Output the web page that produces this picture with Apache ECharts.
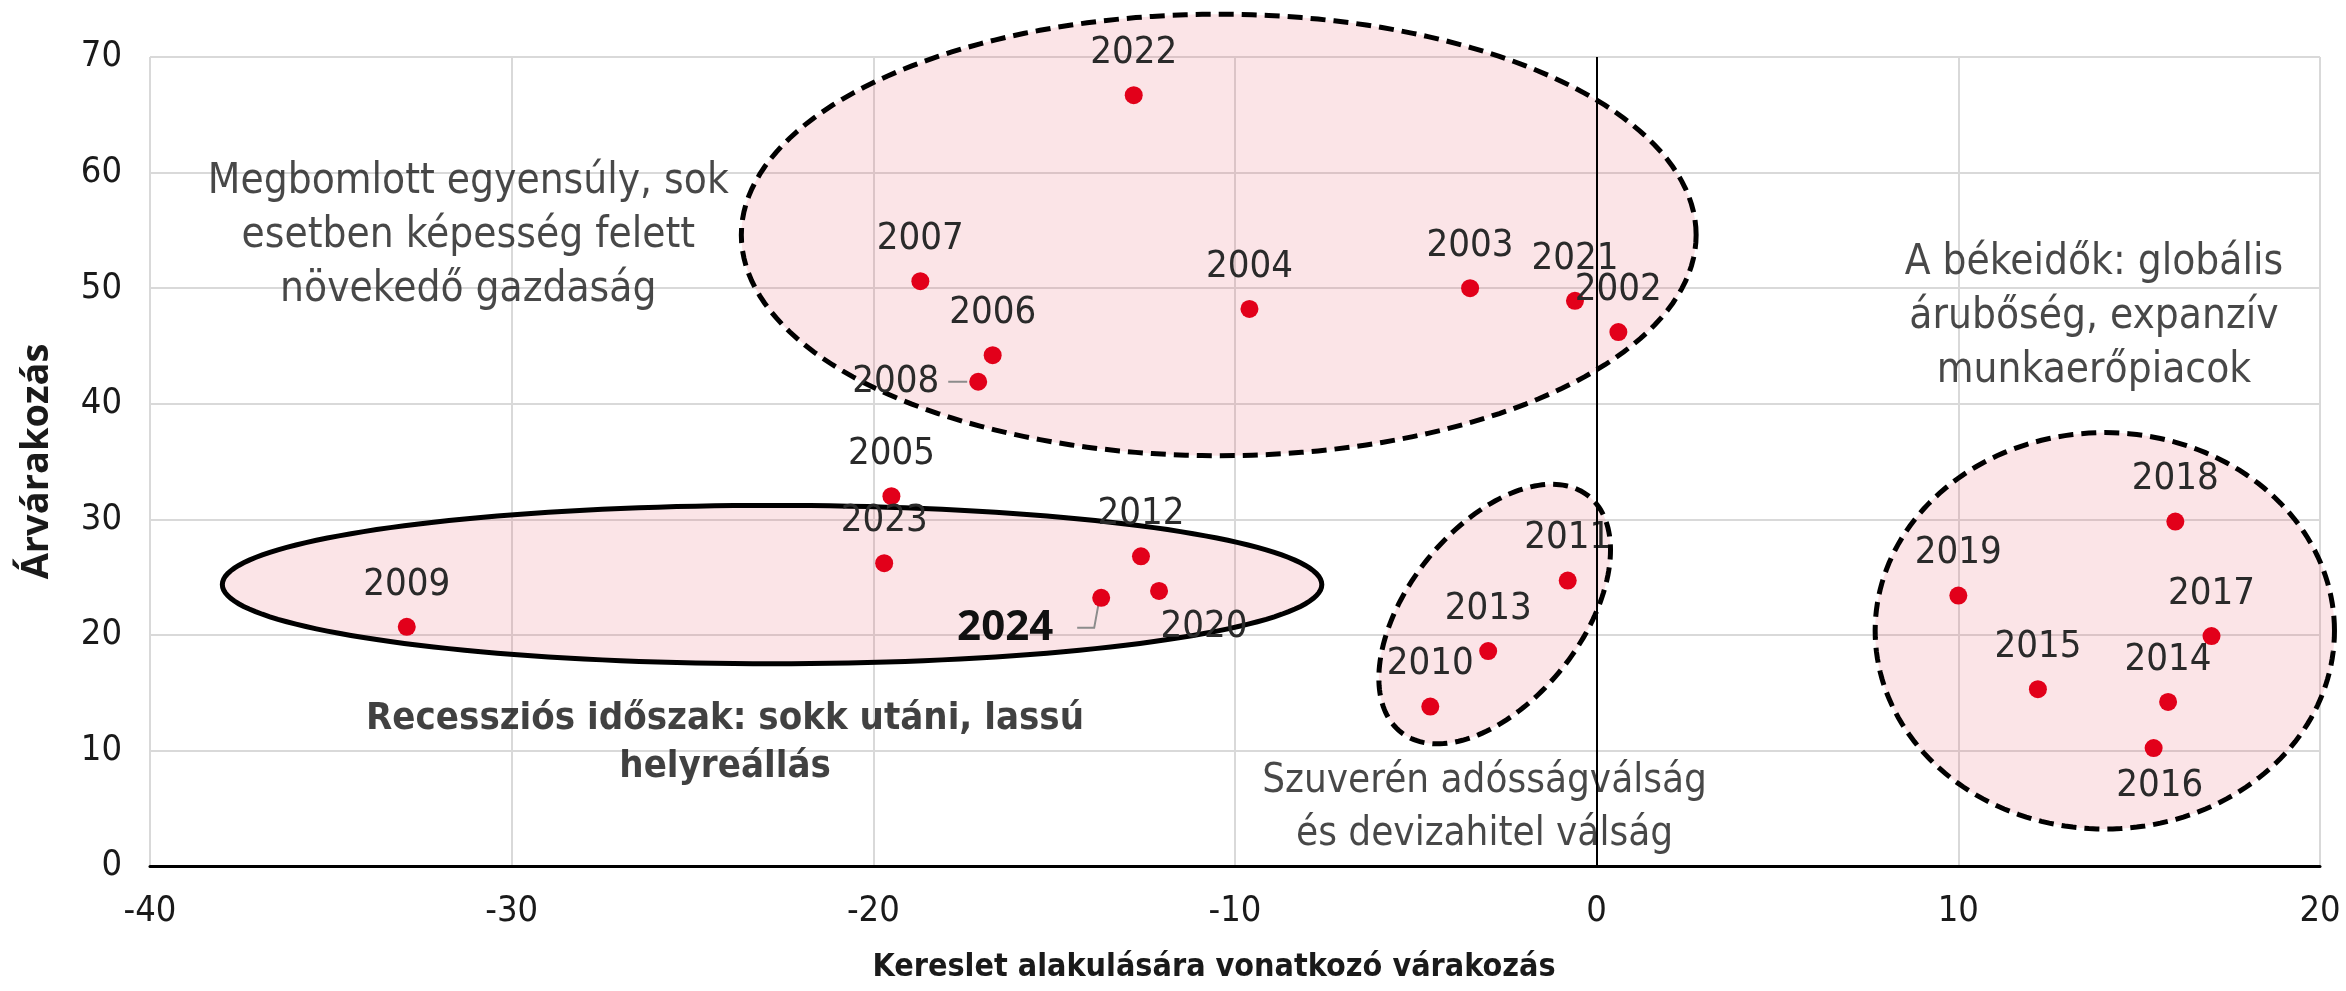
<!DOCTYPE html>
<html>
<head>
<meta charset="utf-8">
<script src="https://cdn.jsdelivr.net/npm/echarts@6/dist/echarts.min.js"></script>
<style>
  html, body { margin: 0; padding: 0; background: #fff; }
  #chart { width: 2346px; height: 991px; }
</style>
</head>
<body>
<div id="chart"></div>
<script>
// évek és a két várakozási index
var years = ['2002','2003','2004','2005','2006','2007','2008','2009','2010','2011','2012','2013',
             '2014','2015','2016','2017','2018','2019','2020','2021','2022','2023','2024'];
var demand = [0.6, -3.5, -9.6, -19.5, -16.7, -18.7, -17.1, -32.9, -4.6, -0.8, -12.6, -3.0,
              15.8, 12.2, 15.4, 17.0, 16.0, 10.0, -12.1, -0.6, -12.8, -19.7, -13.7];
var prices = [46.2, 50.0, 48.2, 32.0, 44.2, 50.6, 41.9, 20.7, 13.8, 24.7, 26.8, 18.6,
              14.2, 15.3, 10.2, 19.9, 29.8, 23.4, 23.8, 48.9, 66.7, 26.2, 23.2];

var xTicks = { min: -40, max: 20, interval: 10 };
var yTicks = { min: 0, max: 70, interval: 10 };

// csoportokat jelölő ellipszisek: középpont, félátmérők (tengelyegységben), forgatás, szaggatott-e
var groups = [
  [-10.45, 54.6, 13.2, 19.1, 0, 1],
  [-22.8, 24.35, 15.2, 6.85, 0, 0],
  [-2.82, 21.8, 4.17, 7.5, 51.5, 1],
  [14.05, 20.35, 6.35, 17.15, 0, 1]
];

var notes = [
  { text: 'Megbomlott egyensúly, sok\nesetben képesség felett\nnövekedő gazdaság', at: [-31.2, 54.5], bold: false },
  { text: 'Recessziós időszak: sokk utáni, lassú\nhelyreállás', at: [-24.1, 10.6], bold: true },
  { text: 'Szuverén adósságválság\nés devizahitel válság', at: [-3.1, 5.0], bold: false, small: true },
  { text: 'A békeidők: globális\nárubőség, expanzív\nmunkaerőpiacok', at: [13.75, 47.5], bold: false }
];

var FONT = '"DejaVu Sans Condensed", "Liberation Sans Narrow", "Open sans", sans-serif';
var TXT = '#1a1a1a';

// címkék elhelyezése évenként (alapból a pont fölött), vezetővonal pixel-eltolásokkal
var labelPos = {
  '2008': { position: 'left', distance: 30, leader: [[-11, 0], [-30, 0]] },
  '2020': { position: 'bottom', offset: [45, -6] },
  '2016': { position: 'bottom', offset: [6, -4] },
  '2024': { position: 'left', offset: [-25, 30], big: true, leader: [[-3, 8], [-7, 30], [-24, 30]] }
};

var dots = years.map(function (y, i) {
  var item = { name: y, value: [demand[i], prices[i]] };
  var p = labelPos[y];
  if (p) {
    item.label = { position: p.position };
    if (p.distance) item.label.distance = p.distance;
    if (p.offset) item.label.offset = p.offset;
    if (p.big) {
      item.label.fontFamily = '"Open Sans", "DejaVu Sans", sans-serif';
      item.label.fontWeight = 'bold';
      item.label.fontSize = 42;
      item.label.color = '#111';
    }
  }
  return item;
});

var leaderYears = years.filter(function (y) { return labelPos[y] && labelPos[y].leader; });
var leaderData = leaderYears.map(function (y) {
  var i = years.indexOf(y);
  return [demand[i], prices[i]];
});

var chart = echarts.init(document.getElementById('chart'));

chart.setOption({
  animation: false,
  grid: { left: 150, right: 26, top: 57, bottom: 125 },
  xAxis: {
    type: 'value',
    min: xTicks.min, max: xTicks.max, interval: xTicks.interval,
    name: 'Kereslet alakulására vonatkozó várakozás',
    nameLocation: 'middle',
    nameGap: 86,
    nameTextStyle: { fontFamily: FONT, fontWeight: 'bold', fontSize: 32, color: TXT, padding: [0, 42, 0, 0] },
    axisLine: { onZero: false, lineStyle: { color: '#000', width: 3 } },
    axisTick: { show: false },
    axisLabel: { fontFamily: FONT, fontSize: 36, color: TXT, margin: 28 },
    splitLine: { lineStyle: { color: '#d9d9d9', width: 2 } }
  },
  yAxis: {
    type: 'value',
    min: yTicks.min, max: yTicks.max, interval: yTicks.interval,
    name: 'Árvárakozás',
    nameLocation: 'middle',
    nameGap: 94,
    nameTextStyle: { fontFamily: '"Open Sans", sans-serif', fontWeight: 'bold', fontSize: 38, color: TXT },
    axisLine: { show: false },
    axisTick: { show: false },
    axisLabel: { fontFamily: FONT, fontSize: 36, color: TXT, margin: 28 },
    splitLine: { lineStyle: { color: '#d9d9d9', width: 2 } }
  },
  series: [
    {
      type: 'custom',
      silent: true,
      z: 1,
      data: groups,
      renderItem: function (params, api) {
        var c = api.coord([api.value(0), api.value(1)]);
        var s = api.size([api.value(2), api.value(3)]);
        var rot = api.value(4) * Math.PI / 180;
        var dashed = api.value(5) === 1;
        var pts = [];
        for (var k = 0; k < 180; k++) {
          var t = k / 180 * Math.PI * 2;
          var ex = s[0] * Math.cos(t), ey = s[1] * Math.sin(t);
          pts.push([
            c[0] + ex * Math.cos(rot) - ey * Math.sin(rot),
            c[1] - (ex * Math.sin(rot) + ey * Math.cos(rot))
          ]);
        }
        return {
          type: 'polygon',
          shape: { points: pts },
          style: {
            fill: 'rgba(230, 86, 105, 0.16)',
            stroke: '#000',
            lineWidth: 5,
            lineDash: dashed ? [15, 8] : null
          }
        };
      }
    },
    {
      // vezetővonalak a 2008-as és 2024-es címkékhez
      type: 'custom',
      silent: true,
      z: 2,
      data: leaderData,
      renderItem: function (params, api) {
        var c = api.coord([api.value(0), api.value(1)]);
        var offs = labelPos[leaderYears[params.dataIndex]].leader;
        return {
          type: 'polyline',
          shape: { points: offs.map(function (o) { return [c[0] + o[0], c[1] + o[1]]; }) },
          style: { stroke: '#8c8c8c', lineWidth: 2, fill: null }
        };
      }
    },
    {
      type: 'scatter',
      z: 3,
      symbolSize: 18,
      itemStyle: { color: '#e2001a', opacity: 1 },
      data: dots,
      label: {
        show: true,
        position: 'top',
        distance: 14,
        formatter: '{b}',
        fontFamily: FONT,
        fontSize: 38,
        color: '#2a2a2a'
      },
      markLine: {
        silent: true,
        symbol: 'none',
        label: { show: false },
        lineStyle: { color: '#000', width: 2, type: 'solid' },
        data: [{ xAxis: 0 }]
      }
    },
    {
      type: 'scatter',
      silent: true,
      z: 4,
      symbolSize: 0,
      data: notes.map(function (n) {
        var lab = n.bold
          ? { fontWeight: 'bold', fontSize: 38, lineHeight: 48, color: '#111' }
          : { fontWeight: 'normal' };
        if (n.small) { lab.fontSize = 40; lab.lineHeight = 53; }
        return { value: n.at, name: n.text, label: lab };
      }),
      label: {
        show: true,
        position: 'inside',
        formatter: '{b}',
        fontFamily: FONT,
        fontSize: 42,
        lineHeight: 54,
        align: 'center',
        color: TXT
      }
    }
  ]
});
</script>
</body>
</html>
